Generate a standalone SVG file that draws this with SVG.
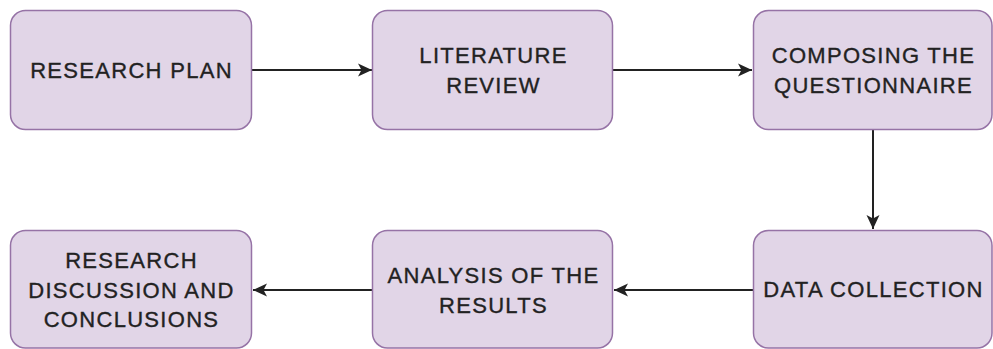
<svg xmlns="http://www.w3.org/2000/svg" width="993" height="349" viewBox="0 0 993 349">
<style>
.box{fill:#e1d5e7;stroke:#9673a6;stroke-width:1.5}
.lbl{font-family:"Liberation Sans",Arial,sans-serif;font-size:22px;fill:#222;stroke:#222;stroke-width:0.35;text-anchor:middle;letter-spacing:1.3px}
.edge{stroke:#222;stroke-width:2;fill:none}
</style>
<defs>
<marker id="ah" markerUnits="userSpaceOnUse" markerWidth="16" markerHeight="16" viewBox="0 0 16 16" refX="15" refY="8" orient="auto">
<path d="M1,1.5 L15,8 L1,14.5 L4.5,8 Z" fill="#222"/>
</marker>
</defs>
<rect width="993" height="349" fill="#ffffff"/>
<g id="connectors">
<line class="edge" x1="252" y1="70" x2="372" y2="70" marker-end="url(#ah)"/>
<line class="edge" x1="613" y1="70" x2="752" y2="70" marker-end="url(#ah)"/>
<line class="edge" x1="873" y1="130" x2="873" y2="229" marker-end="url(#ah)"/>
<line class="edge" x1="753" y1="290" x2="614" y2="290" marker-end="url(#ah)"/>
<line class="edge" x1="373" y1="290" x2="253" y2="290" marker-end="url(#ah)"/>
</g>
<g id="node-research-plan">
<rect class="box" x="10.5" y="10.5" width="241" height="119" rx="15"/>
<text class="lbl" x="131.5" y="78">RESEARCH PLAN</text>
</g>
<g id="node-literature-review">
<rect class="box" x="372.5" y="10.5" width="240" height="119" rx="15"/>
<text class="lbl" x="493.5" y="63">LITERATURE</text>
<text class="lbl" x="493.5" y="93">REVIEW</text>
</g>
<g id="node-composing">
<rect class="box" x="753.5" y="10.5" width="238.5" height="119" rx="15"/>
<text class="lbl" x="873.5" y="63">COMPOSING THE</text>
<text class="lbl" x="873.5" y="93">QUESTIONNAIRE</text>
</g>
<g id="node-data-collection">
<rect class="box" x="753.5" y="230.5" width="238.5" height="117.5" rx="15"/>
<text class="lbl" x="873.5" y="297">DATA COLLECTION</text>
</g>
<g id="node-analysis">
<rect class="box" x="372.5" y="230.5" width="240" height="117.5" rx="15"/>
<text class="lbl" x="493.5" y="283">ANALYSIS OF THE</text>
<text class="lbl" x="493.5" y="313">RESULTS</text>
</g>
<g id="node-discussion">
<rect class="box" x="10.5" y="230.5" width="241" height="117.5" rx="15"/>
<text class="lbl" x="131.5" y="268">RESEARCH</text>
<text class="lbl" x="131.5" y="297.5">DISCUSSION AND</text>
<text class="lbl" x="131.5" y="327">CONCLUSIONS</text>
</g>
</svg>
